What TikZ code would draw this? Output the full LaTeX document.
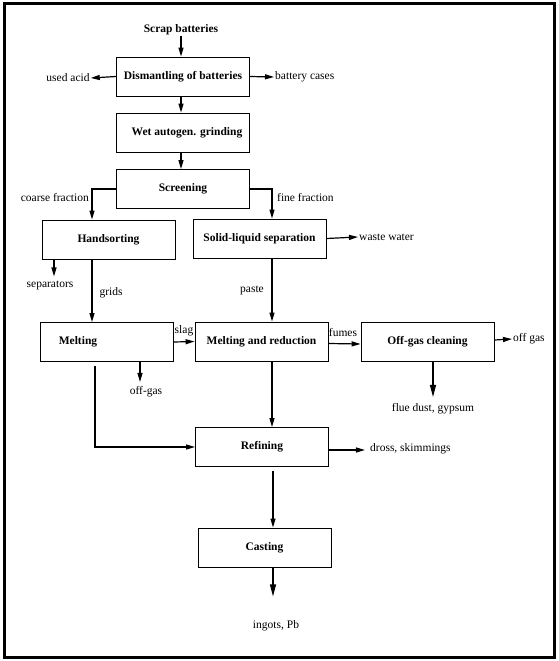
\documentclass[tikz,border=0pt]{standalone}
\usepackage{fontspec}
\setmainfont{Liberation Serif}
\usetikzlibrary{arrows.meta}
\begin{document}
\begin{tikzpicture}[x=1pt,y=-1pt,
  box/.style={draw,line width=0.9pt,minimum width=133pt,minimum height=39pt,inner sep=0pt,font=\fontsize{11.5}{13}\selectfont\bfseries},
  lbl/.style={inner sep=1pt,font=\fontsize{11.5}{13}\selectfont},
  arr/.style={line width=1.2pt,-{Triangle[length=9pt,width=5pt]}},
  larr/.style={line width=1.2pt,-{Triangle[length=12pt,width=6pt]}},
  ln/.style={line width=1.2pt}]
\useasboundingbox (0,0) rectangle (559,661);
\draw[line width=3pt] (4,4) rectangle (554,657);
% boxes
\node[box] (dis) at (183,76.5) {Dismantling of batteries};
\node[box] (wet) at (183,132.5) {\hspace*{8pt}Wet autogen. grinding};
\node[box] (scr) at (183,189) {Screening};
\node[box] (hand) at (108.5,239.5) {Handsorting};
\node[box] (sls) at (259.5,238.5) {Solid-liquid separation};
\node[box] (melt) at (107,342) {Melting\hspace*{58pt}};
\node[box] (mr) at (261.5,341.5) {Melting and reduction};
\node[box] (ogc) at (427.5,342) {Off-gas cleaning};
\node[box] (ref) at (262,447) {Refining};
\node[box] (cast) at (264.5,547.5) {Casting};
% labels
\node[lbl,font=\fontsize{11.5}{13}\selectfont\bfseries] (scrap) at (181,30) {Scrap batteries};
\node[lbl] (acid) at (68,78) {used acid};
\node[lbl,anchor=west] (cases) at (274,77) {battery cases};
\node[lbl,anchor=east] (coarse) at (90,198) {coarse fraction};
\node[lbl,anchor=west] (fine) at (276,198) {fine fraction};
\node[lbl,anchor=west] (ww) at (358,237) {waste water};
\node[lbl] (sep) at (50,285) {separators};
\node[lbl] (grids) at (111,293) {grids};
\node[lbl] (paste) at (252,290) {paste};
\node[lbl] (slag) at (184,331) {slag};
\node[lbl] (fumes) at (343,333) {fumes};
\node[lbl,anchor=west] (og) at (512,339) {off gas};
\node[lbl] (flue) at (433,409) {flue dust, gypsum};
\node[lbl] (og2) at (146,392) {off-gas};
\node[lbl,anchor=west] (dross) at (369,449) {dross, skimmings};
\node[lbl] (ingots) at (276,626) {ingots, Pb};
% connectors
\draw[arr] (scrap.south) -- (scrap.south |- dis.north);
\draw[arr] (dis.west) -- (acid.east);
\draw[arr] (dis.east) -- (cases.west);
\draw[arr] ([xshift=-2pt]dis.south) -- ([xshift=-2pt]wet.north);
\draw[arr] ([xshift=-2pt]wet.south) -- ([xshift=-2pt]scr.north);
\draw[arr] (scr.west) -| ([xshift=-16.5pt]hand.north);
\draw[arr] (scr.east) -| ([xshift=12.5pt]sls.north);
\draw[arr] (sls.east) -- (ww.west);
\draw[arr] ([xshift=-54.5pt]hand.south) -- ++(0,17);
\draw[arr] ([xshift=-16.5pt]hand.south) -- ([xshift=-15pt]melt.north);
\draw[arr] ([xshift=12.5pt]sls.south) -- ([xshift=10.5pt]mr.north);
\draw[arr] (melt.east) -- (mr.west);
\draw[arr] ([yshift=-2pt]mr.east) -- ([yshift=-2pt]ogc.west);
\draw[arr] ([yshift=2pt]ogc.east) -- (og.west);
\draw[larr] ([xshift=5.5pt]ogc.south) -- ++(0,35);
\draw[arr] ([xshift=33pt]melt.south) -- ++(0,20);
\draw[arr] ([xshift=-12pt,yshift=-4pt]melt.south) |- (ref.west);
\draw[arr] ([xshift=10.5pt]mr.south) -- ([xshift=10pt]ref.north);
\draw[arr] ([yshift=-3pt]ref.east) -- ++(36,0);
\draw[arr] ([xshift=11pt,yshift=-4pt]ref.south) -- ([xshift=8.5pt]cast.north);
\draw[larr] ([xshift=8.5pt]cast.south) -- ++(0,29);
\end{tikzpicture}
\end{document}
